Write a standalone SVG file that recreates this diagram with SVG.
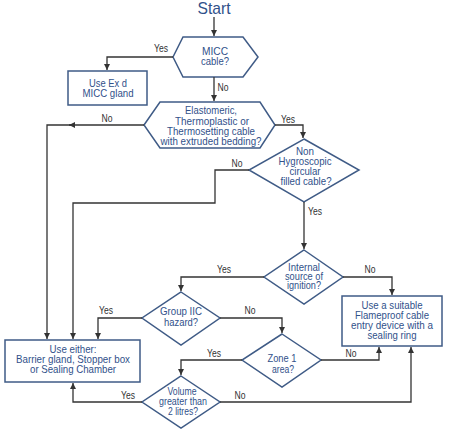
<svg xmlns="http://www.w3.org/2000/svg" width="474" height="432" viewBox="0 0 474 432">
<defs>
<marker id="ah" viewBox="0 0 10 10" refX="10" refY="5" markerWidth="6" markerHeight="6" markerUnits="userSpaceOnUse" orient="auto">
<path d="M0,0 L10,5 L0,10 z" fill="#333"/>
</marker>
</defs>
<style>
.node{fill:#fff;stroke:#3f5b86;stroke-width:1.5}
.t{font-family:"Liberation Sans",Arial,sans-serif;font-size:11px;fill:#31518a;text-anchor:middle}
.lbl{font-family:"Liberation Sans",Arial,sans-serif;font-size:10px;fill:#333;text-anchor:middle}
.c{fill:none;stroke:#333;stroke-width:1.3}
</style>
<rect width="474" height="432" fill="#fff"/>
<g id="start"><text x="214" y="14" style="font-family:'Liberation Sans',Arial,sans-serif;font-size:17px;fill:#31518a" text-anchor="middle" textLength="33" lengthAdjust="spacingAndGlyphs">Start</text></g>
<g id="micc">
<polygon class="node" points="173,57 183,37 243,37 258,57 243,77 183,77"/>
<text class="t" x="215" y="55" textLength="26" lengthAdjust="spacingAndGlyphs">MICC</text>
<text class="t" x="215" y="65" textLength="28" lengthAdjust="spacingAndGlyphs">cable?</text>
</g>
<g id="exd">
<rect class="node" x="68" y="71" width="79" height="34"/>
<text class="t" x="108" y="87" textLength="38" lengthAdjust="spacingAndGlyphs">Use Ex d</text>
<text class="t" x="108" y="97" textLength="51" lengthAdjust="spacingAndGlyphs">MICC gland</text>
</g>
<g id="elast">
<polygon class="node" points="144,125 160,102 260,102 275,125 260,148 160,148"/>
<text class="t" x="211" y="114" textLength="52" lengthAdjust="spacingAndGlyphs">Elastomeric,</text>
<text class="t" x="212" y="124.5" textLength="74" lengthAdjust="spacingAndGlyphs">Thermoplastic or</text>
<text class="t" x="211" y="135" textLength="88" lengthAdjust="spacingAndGlyphs">Thermosetting cable</text>
<text class="t" x="211" y="145" textLength="101" lengthAdjust="spacingAndGlyphs">with extruded bedding?</text>
</g>
<g id="nonhyg">
<polygon class="node" points="304,139 359,170 304,202 249,170"/>
<text class="t" x="305" y="155" textLength="18" lengthAdjust="spacingAndGlyphs">Non</text>
<text class="t" x="305" y="165" textLength="53" lengthAdjust="spacingAndGlyphs">Hygroscopic</text>
<text class="t" x="305" y="175" textLength="31" lengthAdjust="spacingAndGlyphs">circular</text>
<text class="t" x="306" y="185" textLength="51" lengthAdjust="spacingAndGlyphs">filled cable?</text>
</g>
<g id="internal">
<polygon class="node" points="304,250 343,277 304,304 264,277"/>
<text class="t" x="304" y="271" textLength="32" lengthAdjust="spacingAndGlyphs">Internal</text>
<text class="t" x="304" y="280" textLength="38" lengthAdjust="spacingAndGlyphs">source of</text>
<text class="t" x="304" y="289" textLength="34" lengthAdjust="spacingAndGlyphs">ignition?</text>
</g>
<g id="group">
<polygon class="node" points="181,292 220,318 181,345 142,318"/>
<text class="t" x="181" y="315" textLength="42" lengthAdjust="spacingAndGlyphs">Group IIC</text>
<text class="t" x="181" y="326" textLength="34" lengthAdjust="spacingAndGlyphs">hazard?</text>
</g>
<g id="zone">
<polygon class="node" points="282,334 321,360 282,387 242,360"/>
<text class="t" x="282" y="362" textLength="29" lengthAdjust="spacingAndGlyphs">Zone 1</text>
<text class="t" x="283" y="373" textLength="22" lengthAdjust="spacingAndGlyphs">area?</text>
</g>
<g id="volume">
<polygon class="node" points="181,376 220,402 181,428 142,402"/>
<text class="t" x="182" y="395" textLength="29" lengthAdjust="spacingAndGlyphs">Volume</text>
<text class="t" x="183" y="405" textLength="48" lengthAdjust="spacingAndGlyphs">greater than</text>
<text class="t" x="183" y="415" textLength="30" lengthAdjust="spacingAndGlyphs">2 litres?</text>
</g>
<g id="either">
<rect class="node" x="5" y="340" width="135" height="42"/>
<text class="t" x="73" y="353" textLength="47" lengthAdjust="spacingAndGlyphs">Use either:</text>
<text class="t" x="73" y="363" textLength="114" lengthAdjust="spacingAndGlyphs">Barrier gland, Stopper box</text>
<text class="t" x="73" y="373" textLength="86" lengthAdjust="spacingAndGlyphs">or Sealing Chamber</text>
</g>
<g id="flameproof">
<rect class="node" x="342" y="296" width="100" height="50"/>
<text class="t" x="392" y="309" textLength="61" lengthAdjust="spacingAndGlyphs">Use a suitable</text>
<text class="t" x="392" y="319" textLength="74" lengthAdjust="spacingAndGlyphs">Flameproof cable</text>
<text class="t" x="392" y="329" textLength="82" lengthAdjust="spacingAndGlyphs">entry device with a</text>
<text class="t" x="392" y="338.5" textLength="49" lengthAdjust="spacingAndGlyphs">sealing ring</text>
</g>
<g id="connectors">
<path class="c" d="M214,17 V36" marker-end="url(#ah)"/>
<path class="c" d="M173,57 H107 V70" marker-end="url(#ah)"/>
<path class="c" d="M214,77 V101" marker-end="url(#ah)"/>
<path class="c" d="M144,125 H69" marker-end="url(#ah)"/>
<path class="c" d="M72,125 H47 V339" marker-end="url(#ah)"/>
<path class="c" d="M275,125 H303 V138" marker-end="url(#ah)"/>
<path class="c" d="M249,170 H215 V203 H73 V339" marker-end="url(#ah)"/>
<path class="c" d="M304,202 V249" marker-end="url(#ah)"/>
<path class="c" d="M264,277 H181 V291" marker-end="url(#ah)"/>
<path class="c" d="M343,277 H392 V295" marker-end="url(#ah)"/>
<path class="c" d="M142,318 H98 V339" marker-end="url(#ah)"/>
<path class="c" d="M220,318 H282 V333" marker-end="url(#ah)"/>
<path class="c" d="M321,360 H379 V347" marker-end="url(#ah)"/>
<path class="c" d="M242,360 H181 V375" marker-end="url(#ah)"/>
<path class="c" d="M142,402 H73 V383" marker-end="url(#ah)"/>
<path class="c" d="M220,402 H411 V347" marker-end="url(#ah)"/>
<text class="lbl" x="161" y="52" textLength="14" lengthAdjust="spacingAndGlyphs">Yes</text>
<text class="lbl" x="223" y="91" textLength="11" lengthAdjust="spacingAndGlyphs">No</text>
<text class="lbl" x="107" y="122" textLength="11" lengthAdjust="spacingAndGlyphs">No</text>
<text class="lbl" x="288" y="123" textLength="14" lengthAdjust="spacingAndGlyphs">Yes</text>
<text class="lbl" x="237" y="167" textLength="11" lengthAdjust="spacingAndGlyphs">No</text>
<text class="lbl" x="315" y="215" textLength="14" lengthAdjust="spacingAndGlyphs">Yes</text>
<text class="lbl" x="224" y="273" textLength="14" lengthAdjust="spacingAndGlyphs">Yes</text>
<text class="lbl" x="370" y="273" textLength="11" lengthAdjust="spacingAndGlyphs">No</text>
<text class="lbl" x="106" y="314" textLength="14" lengthAdjust="spacingAndGlyphs">Yes</text>
<text class="lbl" x="250" y="314" textLength="11" lengthAdjust="spacingAndGlyphs">No</text>
<text class="lbl" x="214" y="357" textLength="14" lengthAdjust="spacingAndGlyphs">Yes</text>
<text class="lbl" x="351" y="357" textLength="11" lengthAdjust="spacingAndGlyphs">No</text>
<text class="lbl" x="128" y="399" textLength="14" lengthAdjust="spacingAndGlyphs">Yes</text>
<text class="lbl" x="240" y="399" textLength="11" lengthAdjust="spacingAndGlyphs">No</text>
</g>
</svg>
